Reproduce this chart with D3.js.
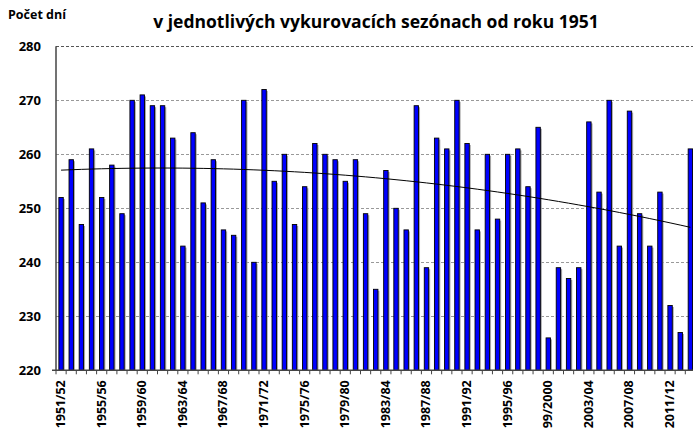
<!DOCTYPE html>
<html>
<head>
<meta charset="utf-8">
<script src="https://cdn.jsdelivr.net/npm/d3@7"></script>
<style>
  body { margin: 0; background: #fff; }
  text { font-family: "Open Sans", Lato, sans-serif; font-weight: bold; fill: #000; }
</style>
</head>
<body>
<div id="chart"></div>
<script>
// heating days per season, 1951/52 .. 2013/14
var seasons = ["1951/52","1952/53","1953/54","1954/55","1955/56","1956/57","1957/58","1958/59",
  "1959/60","1960/61","1961/62","1962/63","1963/64","1964/65","1965/66","1966/67",
  "1967/68","1968/69","1969/70","1970/71","1971/72","1972/73","1973/74","1974/75",
  "1975/76","1976/77","1977/78","1978/79","1979/80","1980/81","1981/82","1982/83",
  "1983/84","1984/85","1985/86","1986/87","1987/88","1988/89","1989/90","1990/91",
  "1991/92","1992/93","1993/94","1994/95","1995/96","1996/97","1997/98","1998/99",
  "99/2000","2000/01","2001/02","2002/03","2003/04","2004/05","2005/06","2006/07",
  "2007/08","2008/09","2009/10","2010/11","2011/12","2012/13","2013/14"];
var days = [252,259,247,261,252,258,249,270,271,269,269,263,243,264,251,259,
  246,245,270,240,272,255,260,247,254,262,260,259,255,259,249,235,
  257,250,246,269,239,263,261,270,262,246,260,248,260,261,254,265,
  226,239,237,239,266,253,270,243,268,249,243,253,232,227,261];
var yTicks = [220,230,240,250,260,270,280];

var width = 693, height = 434;
var plotLeft = 56, plotTop = 46.3, plotBottom = 370.3, step = 10.15;

var svg = d3.select('#chart').append('svg')
  .attr('width', width)
  .attr('height', height);

var x = d3.scaleBand()
  .domain(seasons)
  .range([plotLeft, plotLeft + step * seasons.length])
  .paddingInner(0.5)
  .paddingOuter(0.25);

var y = d3.scaleLinear()
  .domain([220, 280])
  .range([plotBottom, plotTop]);

// grid
svg.selectAll('.grid').data(yTicks.filter(function(d){ return d > 220; }))
  .enter().append('line')
  .attr('x1', plotLeft).attr('x2', width)
  .attr('y1', function(d){ return Math.round(y(d)) + 0.5; })
  .attr('y2', function(d){ return Math.round(y(d)) + 0.5; })
  .attr('stroke', function(d){ return d == 280 ? '#555' : '#999'; })
  .attr('stroke-width', 1)
  .attr('stroke-dasharray', '3,2');

// bar shadows then bars
var cx = function(d){ return x(d) + x.bandwidth() / 2; };
var bw = 4.4;

svg.selectAll('.shadow').data(seasons)
  .enter().append('rect')
  .attr('x', function(d){ return cx(d) - bw / 2 + 1.5; })
  .attr('y', function(d, i){ return y(days[i]) + 1.5; })
  .attr('width', bw)
  .attr('height', function(d, i){ return plotBottom - y(days[i]) - 1.5; })
  .attr('fill', '#a8a8a8');

svg.selectAll('.bar').data(seasons)
  .enter().append('rect')
  .attr('x', function(d){ return cx(d) - bw / 2; })
  .attr('y', function(d, i){ return y(days[i]); })
  .attr('width', bw)
  .attr('height', function(d, i){ return plotBottom - y(days[i]); })
  .attr('fill', '#0000ff')
  .attr('stroke', '#000')
  .attr('stroke-width', 0.9);

// quadratic trend (least squares on the data)
var n = days.length, S = [0,0,0,0,0], T = [0,0,0];
for (var i = 0; i < n; i++) {
  var t = i + 1;
  for (var k = 0; k < 5; k++) S[k] += Math.pow(t, k);
  for (var k = 0; k < 3; k++) T[k] += days[i] * Math.pow(t, k);
}
var M = [[S[0],S[1],S[2],T[0]],[S[1],S[2],S[3],T[1]],[S[2],S[3],S[4],T[2]]];
for (var c = 0; c < 3; c++) {
  for (var r = c + 1; r < 3; r++) {
    var f = M[r][c] / M[c][c];
    for (var k = c; k < 4; k++) M[r][k] -= f * M[c][k];
  }
}
var coef = [0,0,0];
for (var r = 2; r >= 0; r--) {
  var s = M[r][3];
  for (var k = r + 1; k < 3; k++) s -= M[r][k] * coef[k];
  coef[r] = s / M[r][r];
}
var trend = days.map(function(d, i){ var t = i + 1; return coef[0] + coef[1] * t + coef[2] * t * t; });

svg.append('path')
  .datum(trend)
  .attr('fill', 'none')
  .attr('stroke', '#000')
  .attr('stroke-width', 1)
  .attr('d', d3.line()
    .x(function(d, i){ return cx(seasons[i]); })
    .y(function(d){ return y(d); }));

// axes
svg.append('line')
  .attr('x1', plotLeft).attr('x2', plotLeft)
  .attr('y1', plotTop).attr('y2', plotBottom)
  .attr('stroke', '#444').attr('stroke-width', 1.5);

svg.append('line')
  .attr('x1', plotLeft - 4).attr('x2', width)
  .attr('y1', plotBottom).attr('y2', plotBottom)
  .attr('stroke', '#444').attr('stroke-width', 1.5);

svg.selectAll('.xtick').data(d3.range(seasons.length + 1))
  .enter().append('line')
  .attr('x1', function(d){ return plotLeft + d * step; })
  .attr('x2', function(d){ return plotLeft + d * step; })
  .attr('y1', plotBottom).attr('y2', plotBottom + 4)
  .attr('stroke', '#444').attr('stroke-width', 1);

svg.selectAll('.ylab').data(yTicks)
  .enter().append('text')
  .attr('x', 41)
  .attr('y', function(d){ return y(d) + 4.5; })
  .attr('text-anchor', 'end')
  .attr('font-size', 13)
  .text(function(d){ return d; });

svg.selectAll('.xlab').data(seasons.filter(function(d, i){ return i % 4 == 0; }))
  .enter().append('text')
  .attr('transform', function(d){ return 'translate(' + (cx(d) + 4) + ',' + (plotBottom + 10) + ') rotate(-90)'; })
  .attr('text-anchor', 'end')
  .attr('font-size', 12.5)
  .text(function(d){ return d; });

// titles
svg.append('text')
  .attr('x', 376).attr('y', 28)
  .attr('text-anchor', 'middle')
  .attr('font-size', 17.5)
  .text('v jednotlivých vykurovacích sezónach od roku 1951');

svg.append('text')
  .attr('x', 8).attr('y', 19)
  .attr('font-size', 12.5)
  .text('Počet dní');
</script>
</body>
</html>
